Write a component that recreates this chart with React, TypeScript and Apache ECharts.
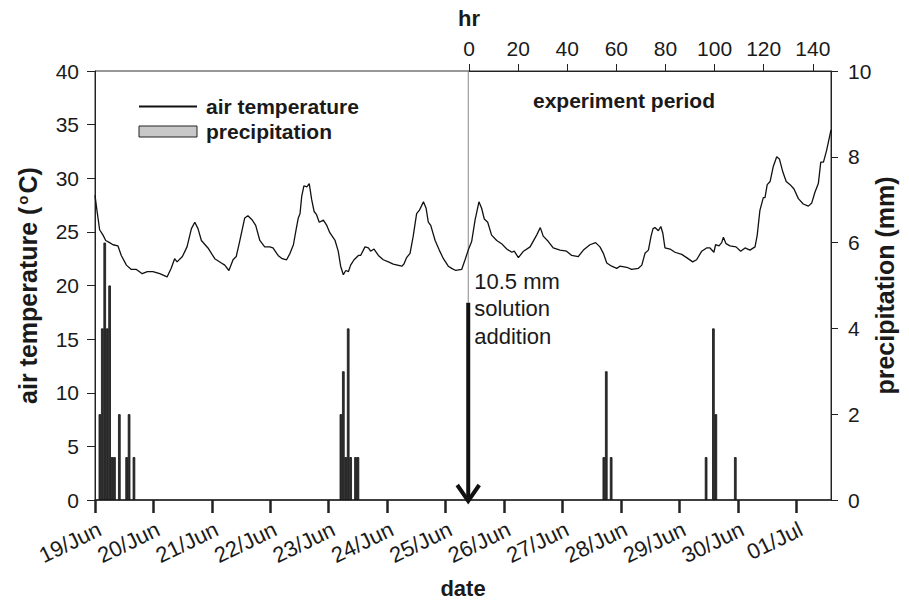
import React, { useEffect, useRef } from 'react';
import * as echarts from 'echarts';

const FONT = '"Liberation Sans", Arial, Helvetica, sans-serif';

// bottom axis: days (x values are hours since 19/Jun 00:00)
const dayLabels = ['19/Jun', '20/Jun', '21/Jun', '22/Jun', '23/Jun', '24/Jun', '25/Jun', '26/Jun', '27/Jun', '28/Jun', '29/Jun', '30/Jun', '01/Jul'];
const dayTicks = [0, 24, 48, 72, 96, 120, 144, 168, 192, 216, 240, 264, 288];
const xMaxHours = 302.3;

// top axis: hours since solution addition
const hrTicks = [0, 20, 40, 60, 80, 100, 120, 140];
const hrMax = 147.4;

// solution addition
const additionHour = 153.3;
const arrowTopTemp = 18.4;
const additionLabelTemp = 21.7;

// air temperature [hour, °C]
const airTemp: [number, number][] = [
  [0, 28.4], [0.8, 27.0], [1.9, 25.2], [3.3, 24.7], [4.4, 24.2], [6, 24.0], [7.4, 23.8], [9.4, 23.7],
  [10.8, 22.8], [12.9, 21.9], [14.9, 21.5], [17, 21.5], [19.4, 21.1], [21.5, 21.3], [23.8, 21.3],
  [26.6, 21.1], [29.6, 20.8], [31.3, 21.6], [32.7, 22.5], [33.7, 22.2], [35.9, 22.7], [37.8, 23.6],
  [39.6, 25.3], [41, 25.9], [42.3, 25.3], [43.7, 24.2], [46.4, 23.5], [49.2, 22.5], [51.9, 22.1],
  [53.3, 21.9], [55, 21.4], [56.7, 22.4], [58, 22.7], [59.4, 24.1], [61.5, 26.3], [62.8, 26.5],
  [64.6, 26.1], [66, 25.6], [67.7, 24.2], [69.7, 23.6], [71.8, 23.6], [73.1, 23.5], [75.2, 22.8],
  [76.9, 22.5], [78.7, 22.4], [80.1, 23.0], [81.5, 23.8], [82.6, 25.2], [83.5, 26.3], [84.2, 26.7],
  [84.9, 28.3], [85.8, 29.3], [87, 29.2], [88, 29.5], [89, 28.0], [90, 26.9], [91, 26.6], [92.1, 25.9],
  [93.8, 26.1], [95.2, 25.6], [96.5, 24.9], [98.6, 24.2], [99.9, 23.2], [100.9, 21.8], [102, 21.0],
  [103, 21.4], [104.1, 21.3], [105, 21.9], [106.4, 22.4], [108.2, 22.8], [109.1, 22.8], [110.9, 23.6],
  [112.3, 23.5], [113.2, 23.2], [114.6, 23.4], [116.4, 22.8], [118.4, 22.4], [120.5, 22.2], [122.5, 22.0],
  [126, 21.8], [126.9, 22.0], [128, 22.6], [129.4, 23.0], [130.7, 24.6], [132.1, 26.7], [133.2, 27.0],
  [134.9, 27.8], [136, 27.2], [136.9, 25.9], [137.9, 25.6], [139.7, 24.2], [141.4, 23.3], [143.1, 22.5],
  [145.1, 21.8], [146.5, 21.6], [148.2, 21.4], [150.6, 21.5], [152, 22.4], [153.3, 23.3], [154.7, 24.1],
  [156.1, 26.1], [157.7, 27.8], [158.8, 27.2], [159.9, 26.2], [161.3, 25.9], [162.9, 24.7], [165, 24.2],
  [167, 23.9], [169.1, 23.4], [171.2, 23.1], [172.2, 23.2], [173.9, 22.6], [176, 23.2], [178.7, 23.6],
  [181.4, 24.7], [182.9, 25.4], [184.1, 24.6], [186.2, 24.1], [188.2, 23.5], [191, 23.3], [193.7, 23.2],
  [195.8, 22.8], [198.5, 22.7], [200.6, 23.3], [203.3, 23.8], [205.6, 24.0], [207.4, 23.6], [208.8, 23.0],
  [210.2, 22.1], [212.2, 21.8], [214.3, 21.6], [215.6, 21.8], [218.4, 21.7], [220.4, 21.5], [223.2, 21.6],
  [224.6, 21.9], [225.9, 23.0], [227.3, 23.3], [228.4, 24.6], [229.2, 25.3], [230, 25.4], [231.4, 25.1],
  [232.4, 25.5], [233.2, 24.9], [234.1, 23.5], [236.2, 23.4], [238.2, 23.1], [241, 22.9], [243, 22.6],
  [245.5, 22.2], [247.1, 22.4], [249.2, 23.2], [251.2, 23.5], [252.6, 23.5], [254.2, 23.1], [254.9, 23.8],
  [256.3, 23.7], [257.4, 24.0], [258.1, 24.5], [259.2, 23.9], [260.8, 23.7], [263.3, 23.6], [265.2, 23.2],
  [267, 23.5], [269, 23.3], [271.1, 23.6], [272, 24.7], [273.1, 27.0], [274.5, 28.2], [275.2, 28.2],
  [276.1, 29.4], [277.3, 29.7], [278.6, 31.1], [280, 32.0], [281.1, 31.8], [282.5, 30.6], [283.9, 29.7],
  [285.5, 29.4], [287.1, 29.0], [288.9, 28.1], [290.9, 27.6], [293, 27.4], [294.4, 27.7], [295.7, 28.7],
  [297.1, 29.5], [298.1, 31.5], [299.2, 31.5], [300.5, 32.6], [302.3, 34.5],
];

// hourly precipitation
const precipHours = [2, 3, 4, 5, 6, 7, 8, 10, 13, 14, 16, 101, 102, 103, 104, 105, 107, 108, 209, 210, 212, 251, 254, 255, 263];
const precipMm = [2, 4, 6, 4, 5, 1, 1, 2, 1, 2, 1, 2, 3, 1, 4, 1, 1, 1, 1, 3, 1, 1, 4, 2, 1];

const TXT = '#1a1a1a';

export default function App() {
  const ref = useRef<HTMLDivElement>(null);
  useEffect(() => {
    if (!ref.current) return;
    const chart = echarts.init(ref.current, undefined, { renderer: 'svg' });
    const axisLineStyle = { color: '#222', width: 1 };
    chart.setOption({
      animation: false,
      backgroundColor: '#fff',
      textStyle: { fontFamily: FONT },
      grid: [
        { left: 95, top: 71, width: 736, height: 429, show: true, borderColor: '#333', borderWidth: 1, backgroundColor: 'transparent', outerBoundsMode: 'none', containLabel: false },
        { left: 469, top: 71, width: 362, height: 429, outerBoundsMode: 'none', containLabel: false },
      ],
      legend: {
        left: 133,
        top: 91,
        orient: 'vertical',
        itemWidth: 58,
        itemHeight: 11,
        itemGap: 4,
        selectedMode: false,
        data: [
          { name: 'air temperature', itemStyle: { opacity: 0, color: 'rgba(0,0,0,0)', borderWidth: 0 } },
          { name: 'precipitation', icon: 'rect', itemStyle: { color: '#c8c8c8', borderColor: '#222', borderWidth: 1 } },
        ],
        textStyle: { fontSize: 21, fontWeight: 'bold', color: TXT, fontFamily: FONT, padding: [0, 0, 0, 4] },
      },
      xAxis: [
        {
          gridIndex: 0,
          type: 'value',
          min: 0,
          max: xMaxHours,
          position: 'bottom',
          name: 'date',
          nameLocation: 'middle',
          nameGap: 77,
          nameTextStyle: { fontSize: 22, fontWeight: 'bold', color: TXT, fontFamily: FONT },
          axisLine: { onZero: false, lineStyle: { color: '#222', width: 1.5 } },
          axisTick: { customValues: dayTicks, length: 13, lineStyle: { color: '#222', width: 2.5 } },
          axisLabel: {
            customValues: dayTicks,
            formatter: (v: number) => dayLabels[Math.round(v / 24)] ?? '',
            rotate: 26,
            margin: 18,
            verticalAlign: 'top',
            fontSize: 22,
            color: TXT,
            fontFamily: FONT,
          },
          splitLine: { show: false },
        },
        {
          gridIndex: 1,
          type: 'value',
          min: 0,
          max: hrMax,
          position: 'top',
          axisLine: { onZero: false, lineStyle: axisLineStyle },
          axisTick: { customValues: hrTicks, length: 7, lineStyle: { color: '#222', width: 1 } },
          axisLabel: { customValues: hrTicks, margin: 12, fontSize: 21, color: TXT, fontFamily: FONT },
          splitLine: { show: false },
        },
      ],
      yAxis: [
        {
          gridIndex: 0,
          type: 'value',
          min: 0,
          max: 40,
          interval: 5,
          position: 'left',
          name: 'air temperature ({sup|o}C)',
          nameLocation: 'middle',
          nameGap: 54,
          nameTextStyle: {
            fontSize: 25,
            fontWeight: 'bold',
            color: TXT,
            fontFamily: FONT,
            rich: { sup: { fontSize: 15, fontWeight: 'bold', color: TXT, fontFamily: FONT, padding: [0, 2, 11, 2] } },
          },
          axisLine: { show: true, onZero: false, lineStyle: axisLineStyle },
          axisTick: { show: true, length: 8, lineStyle: { color: '#222' } },
          axisLabel: { margin: 16, fontSize: 21, color: TXT, fontFamily: FONT },
          splitLine: { show: false },
        },
        {
          gridIndex: 0,
          type: 'value',
          min: 0,
          max: 10,
          interval: 2,
          position: 'right',
          name: 'precipitation (mm)',
          nameLocation: 'middle',
          nameGap: 41,
          nameMoveOverlap: false,
          nameRotate: 90,
          nameTextStyle: { fontSize: 25, fontWeight: 'bold', color: TXT, fontFamily: FONT },
          axisLine: { show: true, onZero: false, lineStyle: axisLineStyle },
          axisTick: { show: true, length: 7, lineStyle: { color: '#222' } },
          axisLabel: { margin: 17, fontSize: 21, color: TXT, fontFamily: FONT },
          splitLine: { show: false },
        },
        { gridIndex: 1, type: 'value', min: 0, max: 1, show: false },
      ],
      graphic: [
        {
          type: 'text',
          x: 624,
          y: 100,
          style: { text: 'experiment period', fontSize: 21, fontWeight: 'bold', fill: TXT, fontFamily: FONT, align: 'center', verticalAlign: 'middle' },
        },
        {
          type: 'text',
          x: 469,
          y: 18,
          style: { text: 'hr', fontSize: 22, fontWeight: 'bold', fill: TXT, fontFamily: FONT, align: 'center', verticalAlign: 'middle' },
        },
      ],
      series: [
        {
          name: 'precipitation',
          type: 'bar',
          xAxisIndex: 0,
          yAxisIndex: 1,
          barWidth: 2.6,
          data: precipHours.map((h, i) => [h, precipMm[i]]),
          itemStyle: { color: '#333', borderColor: '#111', borderWidth: 0.8 },
        },
        {
          name: 'air temperature',
          type: 'line',
          xAxisIndex: 0,
          yAxisIndex: 0,
          data: airTemp,
          symbol: 'none',
          showSymbol: false,
          itemStyle: { color: '#111' },
          lineStyle: { color: '#111', width: 1.3 },
        },
        {
          name: 'addition',
          type: 'custom',
          xAxisIndex: 0,
          yAxisIndex: 0,
          data: [[additionHour, arrowTopTemp]],
          renderItem: (params: any, api: any) => {
            const h = api.value(0);
            const top = api.coord([h, 40]);
            const start = api.coord([h, api.value(1)]);
            const base = api.coord([h, 0]);
            const lab = api.coord([h, additionLabelTemp]);
            return {
              type: 'group',
              children: [
                { type: 'line', shape: { x1: top[0], y1: top[1], x2: start[0], y2: start[1] }, style: { stroke: '#888', lineWidth: 1 } },
                { type: 'line', shape: { x1: start[0], y1: start[1], x2: base[0], y2: base[1] - 3 }, style: { stroke: '#111', lineWidth: 4 } },
                {
                  type: 'polyline',
                  shape: { points: [[base[0] - 11, base[1] - 15], [base[0], base[1] + 1], [base[0] + 11, base[1] - 15]] },
                  style: { stroke: '#111', lineWidth: 4, fill: null, lineJoin: 'miter' },
                },
                {
                  type: 'text',
                  x: lab[0] + 6,
                  y: lab[1],
                  style: { text: '10.5 mm\nsolution\naddition', fontSize: 22, lineHeight: 27.5, fill: TXT, fontFamily: FONT, verticalAlign: 'top' },
                },
              ],
            };
          },
        },
      ],
    });
    return () => chart.dispose();
  }, []);
  return <div ref={ref} style={{ position: 'fixed', left: 0, top: 0, width: 909, height: 605, background: '#fff' }} />;
}
